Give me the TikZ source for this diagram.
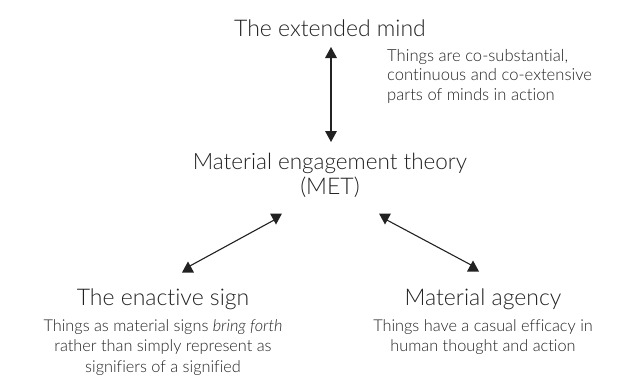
\documentclass[tikz,border=0pt]{standalone}
\usepackage{fontspec}
\setmainfont{Lato}[UprightFont={* Light},ItalicFont={* Light Italic},RawFeature=-liga]
\definecolor{ink}{HTML}{222222}
\tikzset{
  head/.style={font=\fontsize{23}{25}\selectfont, text=ink, anchor=base, inner sep=0pt},
  body/.style={font=\fontsize{16.3}{20.5}\selectfont, text=ink, inner sep=0pt},
  side/.style={font=\fontsize{16.6}{19.5}\selectfont, text=ink, inner sep=0pt},
  link/.style={draw=ink, line width=1.1pt},
  triup/.pic={\fill[ink] (0,-5.5) -- (6,5.5) -- (-6,5.5) -- cycle;},
  tridown/.pic={\fill[ink] (-6,-5.5) -- (6,-5.5) -- (0,5.5) -- cycle;}
}
\begin{document}
\begin{tikzpicture}[x=1pt,y=-1pt]
\useasboundingbox (0,0) rectangle (642,376);
% texts
\node[head] (ext) at (330,36) {The extended mind};
\node[side, anchor=north west, align=left] (extd) at (387,49) {Things are co-substantial,\\continuous and co-extensive\\parts of minds in action};
\node[head, align=center, anchor=north] (met) at (330,153) {\fontsize{22.5}{25}\selectfont Material engagement theory\\(MET)};
\node[head] (sign) at (163,305) {The enactive sign};
\node[body, anchor=north, align=center] (signd) at (163,319) {Things as material signs \textit{bring forth}\\rather than simply represent as\\signifiers of a signified};
\node[head] (agency) at (483,305) {Material agency};
\node[body, anchor=north, align=center] (agencyd) at (483,319) {Things have a casual efficacy in\\human thought and action};
% connector ends
\coordinate (v1) at (331,52.5);
\coordinate (v2) at (331,136.5);
\coordinate (l1) at (276,219);
\coordinate (l2) at (188,267);
\coordinate (r1) at (385,219);
\coordinate (r2) at (473,266);
\draw[link] (v1) -- (v2);
\draw[link] (l1) -- (l2);
\draw[link] (r1) -- (r2);
\pic at (v1) {triup};
\pic at (v2) {tridown};
\pic at (l1) {tridown};
\pic at (l2) {triup};
\pic at (r1) {tridown};
\pic at (r2) {triup};
\end{tikzpicture}
\end{document}
